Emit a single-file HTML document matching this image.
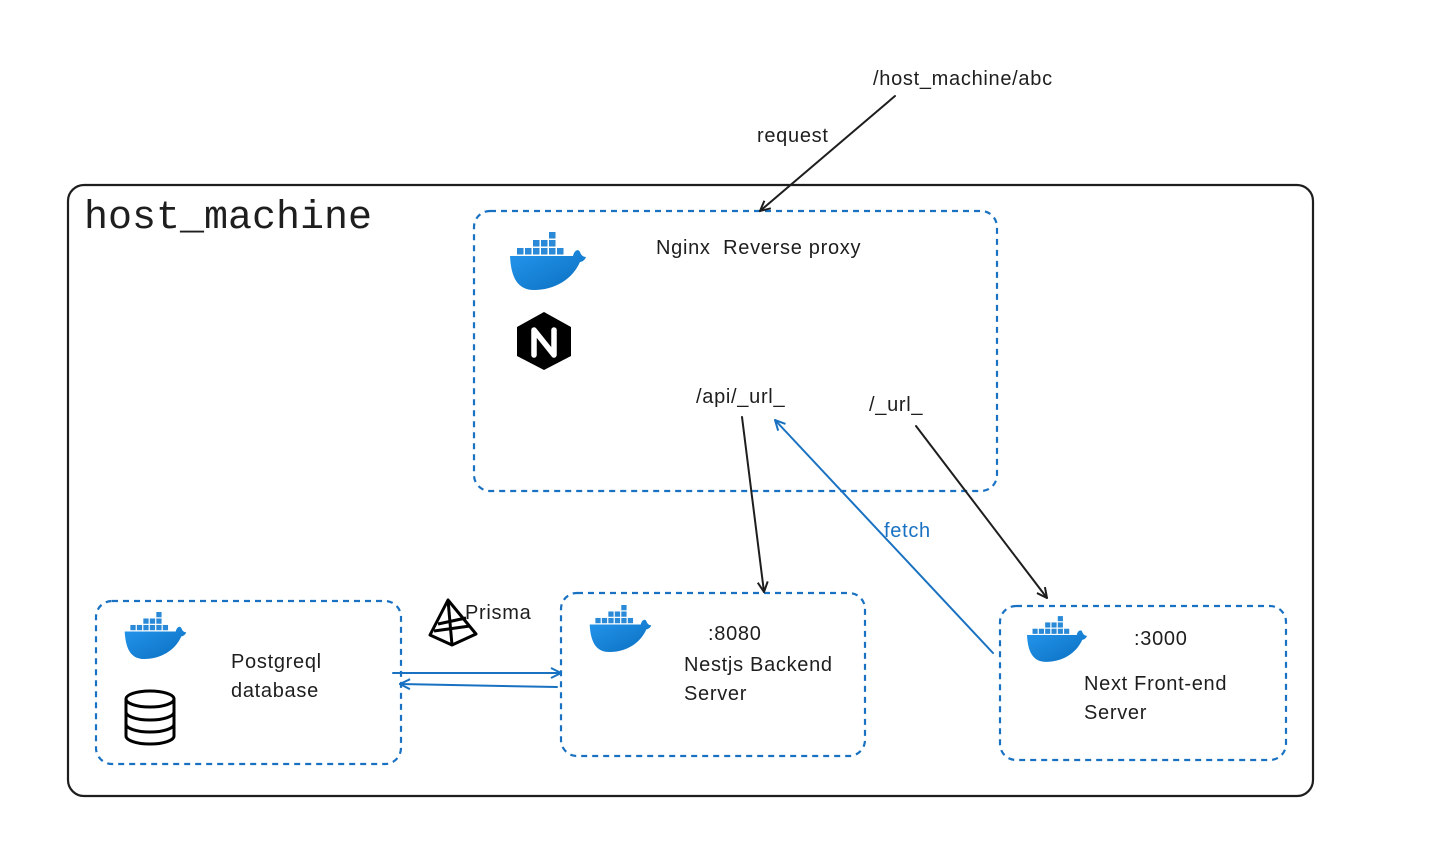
<!DOCTYPE html>
<html><head><meta charset="utf-8"><style>
html,body{margin:0;padding:0;background:#fff;}
svg{display:block;}
text{font-family:"Liberation Sans",sans-serif;fill:#1e1e1e;}
</style></head><body>
<svg width="1435" height="845" viewBox="0 0 1435 845" xmlns="http://www.w3.org/2000/svg">
<defs>
<linearGradient id="g" x1="0" y1="0" x2="1" y2="1"><stop offset="0" stop-color="#2496ed"/><stop offset="1" stop-color="#0b6fc0"/></linearGradient>
<symbol id="dk" viewBox="0 0 76 58">
<g fill="#2a8ad8">
<rect x="39" y="0" width="6.5" height="6.5"/>
<rect x="23" y="8" width="6.5" height="6.5"/><rect x="31" y="8" width="6.5" height="6.5"/><rect x="39" y="8" width="6.5" height="6.5"/>
<rect x="7" y="16" width="6.5" height="6.5"/><rect x="15" y="16" width="6.5" height="6.5"/><rect x="23" y="16" width="6.5" height="6.5"/><rect x="31" y="16" width="6.5" height="6.5"/><rect x="39" y="16" width="6.5" height="6.5"/><rect x="47" y="16" width="6.5" height="6.5"/>
</g>
<path d="M0 24 H63 C64 19 68 16 70 20 C71 23 73 25 76 25 C75 28 72 30 70 30 C62 48 44 58 24 58 C8 58 1 46 0 24 Z" fill="url(#g)"/>
</symbol>
<marker id="ab" viewBox="0 0 12 12" refX="11" refY="6" markerWidth="12" markerHeight="12" markerUnits="userSpaceOnUse" orient="auto"><path d="M1 1 L11 6 L1 11" fill="none" stroke="#1e1e1e" stroke-width="2"/></marker>
<marker id="abl" viewBox="0 0 12 12" refX="11" refY="6" markerWidth="12" markerHeight="12" markerUnits="userSpaceOnUse" orient="auto"><path d="M1 1 L11 6 L1 11" fill="none" stroke="#1971c2" stroke-width="2"/></marker>
</defs>

<rect x="68" y="185" width="1245" height="611" rx="16" fill="none" stroke="#1e1e1e" stroke-width="2.2"/>
<text x="84" y="228" style="font-family:'Liberation Mono',monospace;font-size:40px">host_machine</text>

<g fill="none" stroke="#1971c2" stroke-width="2.2" stroke-dasharray="6 5">
<rect x="474" y="211" width="523" height="280" rx="16"/>
<rect x="96" y="601" width="305" height="163" rx="16"/>
<rect x="561" y="593" width="304" height="163" rx="16"/>
<rect x="1000" y="606" width="286" height="154" rx="16"/>
</g>

<use href="#dk" x="510" y="232" width="76" height="58"/>
<use href="#dk" x="124" y="612" width="63" height="47"/>
<use href="#dk" x="589" y="605" width="63" height="47"/>
<use href="#dk" x="1027" y="616" width="60" height="46"/>

<polygon points="544,312 571,327 571,356 544,370 517,356 517,327" fill="#000"/>
<path d="M534 355 V330 L554 355 V330" fill="none" stroke="#fff" stroke-width="5.5" stroke-linejoin="round" stroke-linecap="round"/>

<g fill="none" stroke="#000" stroke-width="3">
<ellipse cx="150" cy="699" rx="24" ry="8"/>
<path d="M126 699 V736 A24 8 0 0 0 174 736 V699"/>
<path d="M126 712 A24 8 0 0 0 174 712"/>
<path d="M126 724 A24 8 0 0 0 174 724"/>
</g>

<g fill="none" stroke="#000" stroke-width="3" stroke-linejoin="round">
<path d="M448 600 L430 635 L452 645 L476 634 Z"/>
<path d="M448 600 L452 645"/>
<path d="M438 624 L466 618 M434 631 L470 626"/>
</g>

<g fill="none" stroke-width="2" stroke-linecap="round">
<line x1="895" y1="96" x2="760" y2="211" stroke="#1e1e1e" marker-end="url(#ab)"/>
<line x1="742" y1="417" x2="764" y2="592" stroke="#1e1e1e" marker-end="url(#ab)"/>
<line x1="916" y1="426" x2="1047" y2="598" stroke="#1e1e1e" marker-end="url(#ab)"/>
<line x1="993" y1="653" x2="775" y2="420" stroke="#1971c2" marker-end="url(#abl)"/>
<line x1="393" y1="673" x2="561" y2="673" stroke="#1971c2" marker-end="url(#abl)"/>
<line x1="557" y1="687" x2="400" y2="684" stroke="#1971c2" marker-end="url(#abl)"/>
</g>

<g font-size="20" style="letter-spacing:0.7px">
<text x="873" y="85">/host_machine/abc</text>
<text x="757" y="142">request</text>
<text x="656" y="254" xml:space="preserve">Nginx  Reverse proxy</text>
<text x="696" y="403">/api/_url_</text>
<text x="869" y="411">/_url_</text>
<text x="884" y="537" style="fill:#1971c2">fetch</text>
<text x="708" y="640">:8080</text>
<text x="684" y="671">Nestjs Backend</text>
<text x="684" y="700">Server</text>
<text x="1134" y="645">:3000</text>
<text x="1084" y="690">Next Front-end</text>
<text x="1084" y="719">Server</text>
<text x="231" y="668">Postgreql</text>
<text x="231" y="697">database</text>
<text x="465" y="619">Prisma</text>
</g>
</svg>
</body></html>
